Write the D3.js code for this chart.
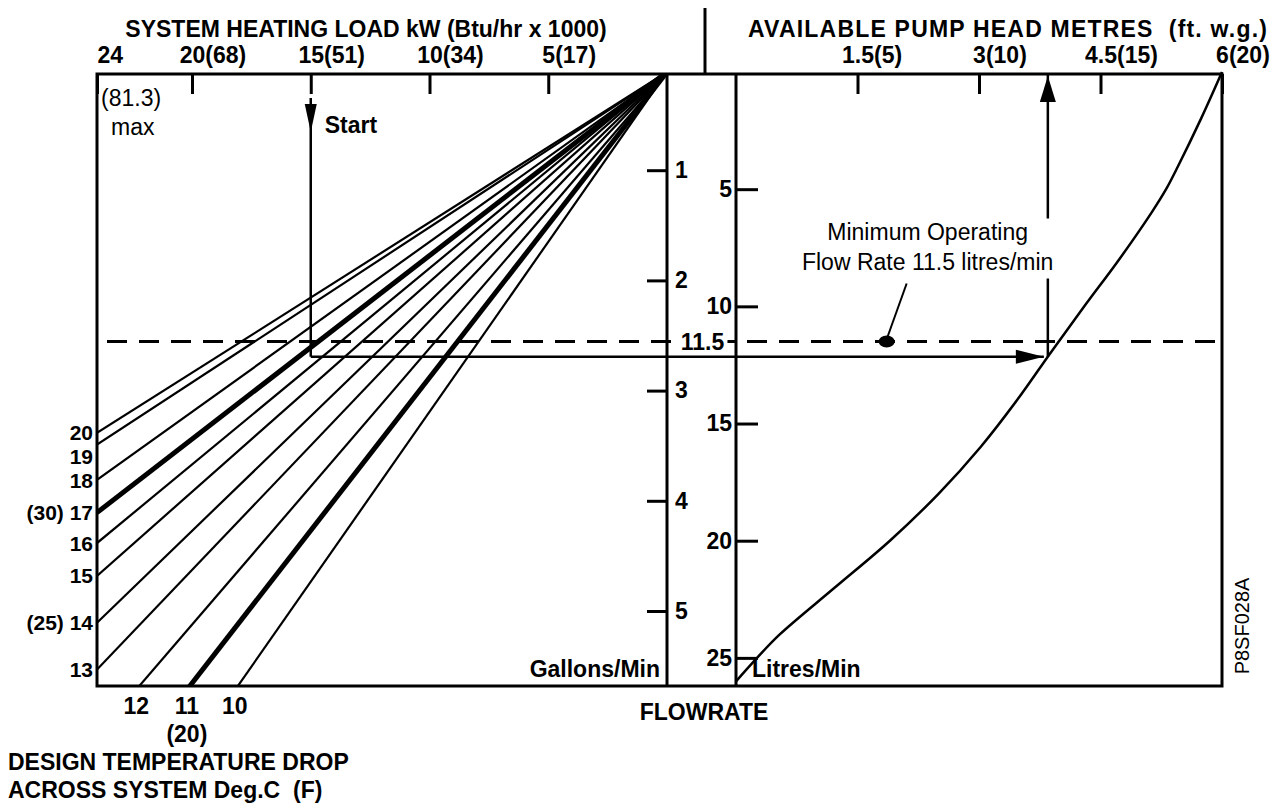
<!DOCTYPE html>
<html>
<head>
<meta charset="utf-8">
<script src="https://cdn.jsdelivr.net/npm/d3@7"></script>
<style>
  body { margin: 0; background: #fff; }
  svg { display: block; font-family: "Liberation Sans", Arial, sans-serif; }
  .bold { font-weight: bold; font-size: 23px; white-space: pre; }
  .thin { font-size: 23px; white-space: pre; }
</style>
</head>
<body>
<div id="chart"></div>
<script>
// heating load axis: kW, with Btu/hr x 1000 in brackets
const loadTicks = [24, 20, 15, 10, 5];
const loadBtu = [null, 68, 51, 34, 17];
// pump head axis: metres, with ft. w.g. in brackets
const headTicks = [1.5, 3, 4.5, 6];
const headFt = [5, 10, 15, 20];
// flowrate scales
const gallonTicks = [1, 2, 3, 4, 5];
const litreTicks = [5, 10, 15, 20, 25];
// temperature drop lines: deg C, deg F label, flow (litres/min) reached at 24 kW
const dropC = [20, 19, 18, 17, 16, 15, 14, 13, 12, 11, 10];
const dropF = [null, null, null, 30, null, null, 25, null, null, 20, null];
const flowAt24 = [15.4, 15.9, 17.4, 18.8, 20.1, 21.5, 23.5, 25.5, 28.3, 31.3, 34.8];
const heavyDrops = [17, 11];
// pump curve: litres/min against available head in metres
const pumpFlow = [0, 2, 4, 5, 6, 8, 10, 12, 14, 16, 18, 20, 22, 24, 25, 26];
const pumpHead = [6, 5.74, 5.46, 5.31, 5.13, 4.73, 4.30, 3.88, 3.47, 3.02, 2.50, 1.90, 1.22, 0.54, 0.26, 0];
// worked example (15 kW, 17 deg drop) and the minimum flow note
const exLoad = 15, exFlow = 12.15, exHead = 3.85;
const minFlow = 11.5;
const minFlowNoteHead = 1.86;

const W = 1276, H = 808;
const pLeft = 97, mid1 = 667, mid2 = 736, pRight = 1222, pTop = 74, pBottom = 686;

const svg = d3.select('#chart').append('svg').attr('width', W).attr('height', H);

const xLoad = d3.scaleLinear().domain([0, 24]).range([mid1, pLeft]);
const yLitre = d3.scaleLinear().domain([0, 26.2]).range([72, pBottom]);
const yGallon = d3.scaleLinear().domain([0, 5]).range([60, 611]);
const xHead = d3.scaleLinear().domain([0, 6]).range([mid2, pRight]);
const maxLitre = yLitre.domain()[1];

// splits "20(68)" into number and bracket, number centred on the tick
function splitLabels(g, extra) {
  g.selectAll('.tick text').each(function(d, i) {
    const t = d3.select(this).text(null).attr('text-anchor', 'start').attr('class', 'bold').attr('fill', '#000');
    t.append('tspan').text(d);
    if (extra[i] != null) t.append('tspan').text('(' + extra[i] + ')');
    const w = this.firstChild.getComputedTextLength();
    t.attr('x', d === 24 ? 0 : -w / 2);
  });
}

function styleAxis(g) {
  g.select('.domain').remove();
  g.attr('font-size', null).attr('font-family', null);
  g.selectAll('.tick line').attr('stroke', '#000').attr('stroke-width', 3);
}

// top axes
svg.append('g').attr('transform', `translate(0,${pTop})`)
  .call(d3.axisTop(xLoad).tickValues(loadTicks).tickSizeInner(-20).tickSizeOuter(0).tickPadding(11))
  .call(styleAxis)
  .call(g => splitLabels(g, loadBtu));

svg.append('g').attr('transform', `translate(0,${pTop})`)
  .call(d3.axisTop(xHead).tickValues(headTicks).tickSizeInner(-20).tickSizeOuter(0).tickPadding(11))
  .call(styleAxis)
  .call(g => splitLabels(g, headFt));

// flowrate axes
svg.append('g').attr('transform', `translate(${mid1},0)`)
  .call(d3.axisRight(yGallon).tickValues(gallonTicks).tickFormat(d3.format('d'))
    .tickSizeInner(-20).tickSizeOuter(0).tickPadding(8))
  .call(styleAxis)
  .call(g => g.selectAll('.tick text').attr('class', 'bold').attr('fill', '#000'));

svg.append('g').attr('transform', `translate(${mid2},0)`)
  .call(d3.axisLeft(yLitre).tickValues(litreTicks).tickFormat(d3.format('d'))
    .tickSizeInner(-22).tickSizeOuter(0).tickPadding(4))
  .call(styleAxis)
  .call(g => g.selectAll('.tick text').attr('class', 'bold').attr('fill', '#000'));

// frame
const frame = svg.append('g').attr('stroke', '#000').attr('stroke-width', 3).attr('fill', 'none');
frame.append('path').attr('d', `M${pLeft},${pBottom}V${pTop}H${pRight}V${pBottom}Z`);
frame.append('line').attr('x1', mid1).attr('x2', mid1).attr('y1', pTop).attr('y2', pBottom);
frame.append('line').attr('x1', mid2).attr('x2', mid2).attr('y1', pTop).attr('y2', pBottom);
frame.append('line').attr('x1', 705).attr('x2', 705).attr('y1', 8).attr('y2', pTop);

// temperature drop fan
svg.append('clipPath').attr('id', 'fanclip')
  .append('rect').attr('x', pLeft).attr('y', pTop).attr('width', mid1 - pLeft).attr('height', pBottom - pTop);

const drops = dropC.map((c, i) => ({ c, f: dropF[i], q: flowAt24[i] }));

svg.append('g').attr('clip-path', 'url(#fanclip)')
  .selectAll('line').data(drops).join('line')
  .attr('x1', xLoad(0)).attr('y1', yLitre(0))
  .attr('x2', xLoad(24)).attr('y2', d => yLitre(d.q))
  .attr('stroke', '#000')
  .attr('stroke-width', d => heavyDrops.includes(d.c) ? 5 : 2.2);

// labels down the left edge, pushed apart when they crowd
const leftDrops = drops.filter(d => d.q <= maxLitre);
let prev = -Infinity;
leftDrops.forEach(d => {
  d.ly = Math.max(yLitre(d.q), prev + 24);
  prev = d.ly;
});
svg.append('g').selectAll('text').data(leftDrops).join('text')
  .attr('class', 'bold').style('font-size', '21px')
  .attr('x', pLeft - 4).attr('y', d => d.ly).attr('dy', '0.36em')
  .attr('text-anchor', 'end')
  .text(d => d.f ? `(${d.f}) ${d.c}` : d.c);

// labels under the bottom edge
const bottomDrops = drops.filter(d => d.q > maxLitre);
const bl = svg.append('g').selectAll('g').data(bottomDrops).join('g')
  .attr('transform', d => `translate(${xLoad(24 * maxLitre / d.q) - 3},0)`);
bl.append('text').attr('class', 'bold').attr('text-anchor', 'middle').attr('y', 714).text(d => d.c);
bl.filter(d => d.f).append('text').attr('class', 'bold').attr('text-anchor', 'middle').attr('y', 742).text(d => `(${d.f})`);

// minimum flow dashed line
const yMin = yLitre(minFlow);
svg.append('line').attr('x1', 107).attr('x2', pRight).attr('y1', yMin).attr('y2', yMin)
  .attr('stroke', '#000').attr('stroke-width', 3).attr('stroke-dasharray', '20,12');

// pump curve
const pump = pumpFlow.map((f, i) => ({ f, h: pumpHead[i] }));
svg.append('path').datum(pump)
  .attr('d', d3.line().x(d => xHead(d.h)).y(d => yLitre(d.f)).curve(d3.curveCatmullRom.alpha(0.5)))
  .attr('fill', 'none').attr('stroke', '#000').attr('stroke-width', 2.5);

// worked example arrows
const ex0 = xLoad(exLoad), ex1 = xHead(exHead), exY = yLitre(exFlow);
const arrows = svg.append('g').attr('stroke', '#000').attr('stroke-width', 2.5);
arrows.append('line').attr('x1', ex0).attr('x2', ex0).attr('y1', 98).attr('y2', exY);
arrows.append('line').attr('x1', ex0).attr('x2', ex1 - 4).attr('y1', exY).attr('y2', exY);
arrows.append('line').attr('x1', ex1).attr('x2', ex1).attr('y1', exY).attr('y2', pTop);
const heads = svg.append('g').attr('fill', '#000');
heads.append('path').attr('d', `M${ex0 - 6},104L${ex0 + 6},104L${ex0},132Z`);
heads.append('path').attr('d', `M${ex1 - 32},${exY - 7}L${ex1 - 32},${exY + 7}L${ex1 - 4},${exY}Z`);
heads.append('path').attr('d', `M${ex1 - 8},${pTop + 28}L${ex1 + 8},${pTop + 28}L${ex1},${pTop + 2}Z`);

svg.append('text').attr('class', 'bold').attr('x', ex0 + 14).attr('y', 133).text('Start');

// "11.5" label sitting on the dashed line
const lbl = svg.append('g');
const lt = lbl.append('text').attr('class', 'bold').attr('x', (mid1 + mid2) / 2 + 1).attr('y', yMin).attr('dy', '0.36em')
  .attr('text-anchor', 'middle').text(minFlow);
const lb = lt.node().getBBox();
lbl.insert('rect', 'text').attr('x', lb.x - 3).attr('y', lb.y).attr('width', lb.width + 6).attr('height', lb.height).attr('fill', '#fff');

// minimum operating flow note
const nx = xHead(minFlowNoteHead);
svg.append('ellipse').attr('cx', nx).attr('cy', yMin).attr('rx', 8).attr('ry', 6).attr('fill', '#000');
svg.append('line').attr('x1', nx + 1).attr('y1', yMin - 5).attr('x2', nx + 20).attr('y2', yMin - 58)
  .attr('stroke', '#000').attr('stroke-width', 2);
const note = svg.append('g');
const nt = note.append('text').attr('class', 'thin').attr('text-anchor', 'middle');
nt.append('tspan').attr('x', nx + 41).attr('y', yMin - 102).text('Minimum Operating');
nt.append('tspan').attr('x', nx + 41).attr('y', yMin - 72).text('Flow Rate 11.5 litres/min');
const nb = nt.node().getBBox();
note.insert('rect', 'text').attr('x', nb.x - 2).attr('y', nb.y).attr('width', nb.width + 4).attr('height', nb.height + 4).attr('fill', '#fff');

// titles and other text
svg.append('text').attr('class', 'bold').attr('x', 366).attr('y', 37).attr('text-anchor', 'middle')
  .text('SYSTEM HEATING LOAD kW (Btu/hr x 1000)');
svg.append('text').attr('class', 'bold').attr('x', 748).attr('y', 37).attr('letter-spacing', 1.2)
  .text('AVAILABLE PUMP HEAD METRES  (ft. w.g.)');
svg.append('text').attr('class', 'thin').attr('x', pLeft + 4).attr('y', 106).text('(81.3)');
svg.append('text').attr('class', 'thin').attr('x', pLeft + 14).attr('y', 135).text('max');
svg.append('text').attr('class', 'bold').attr('x', mid1 - 7).attr('y', pBottom - 9).attr('text-anchor', 'end').text('Gallons/Min');
svg.append('text').attr('class', 'bold').attr('x', mid2 + 16).attr('y', pBottom - 9).text('Litres/Min');
svg.append('text').attr('class', 'bold').attr('x', 704).attr('y', 720).attr('text-anchor', 'middle').text('FLOWRATE');
svg.append('text').attr('class', 'bold').attr('x', 8).attr('y', 770).text('DESIGN TEMPERATURE DROP');
svg.append('text').attr('class', 'bold').attr('x', 8).attr('y', 798).text('ACROSS SYSTEM Deg.C  (F)');
svg.append('text').attr('font-size', 20).attr('text-anchor', 'middle')
  .attr('transform', 'translate(1249,626) rotate(-90)').text('P8SF028A');
</script>
</body>
</html>
